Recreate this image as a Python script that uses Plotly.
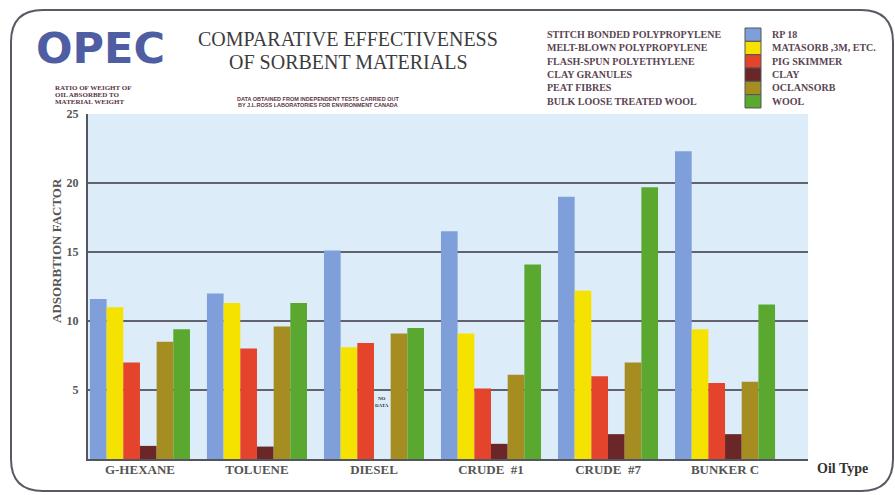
import plotly.graph_objects as go

# ---------------- data ----------------
oil_types = ["G-HEXANE", "TOLUENE", "DIESEL", "CRUDE  #1", "CRUDE  #7", "BUNKER C"]
series_names = ["RP 18", "MATASORB ,3M, ETC.", "PIG SKIMMER", "CLAY", "OCLANSORB", "WOOL"]
material_names = ["STITCH BONDED POLYPROPYLENE", "MELT-BLOWN POLYPROPYLENE",
                  "FLASH-SPUN POLYETHYLENE", "CLAY GRANULES", "PEAT FIBRES",
                  "BULK LOOSE TREATED WOOL"]
rp18 = [11.6, 12.0, 15.1, 16.5, 19.0, 22.3]
matasorb = [11.0, 11.3, 8.1, 9.1, 12.2, 9.4]
pig_skimmer = [7.0, 8.0, 8.4, 5.1, 6.0, 5.5]
clay = [0.95, 0.9, None, 1.1, 1.8, 1.8]
oclansorb = [8.5, 9.6, 9.1, 6.1, 7.0, 5.6]
wool = [9.4, 11.3, 9.5, 14.1, 19.7, 11.2]
y_ticks = [5, 10, 15, 20, 25]

series_values = [rp18, matasorb, pig_skimmer, clay, oclansorb, wool]
colors = ["#7f9fdb", "#f6e200", "#e4432c", "#6b2727", "#a68d22", "#5aa830"]

# ---------------- geometry helpers (pixel -> paper) ----------------
W, H = 895, 495
L, R, T, B = 88, 87, 114, 36
PW, PH = W - L - R, H - T - B


def px(xp):
    return (xp - L) / PW


def py(yp):
    return (H - B - yp) / PH


serif = "Liberation Serif"
x_idx = list(range(len(oil_types)))

fig = go.Figure()
for name, vals, col in zip(series_names, series_values, colors):
    fig.add_trace(go.Bar(x=x_idx, y=vals, name=name, marker_color=col,
                         marker_line_width=0, showlegend=False))

fig.update_layout(
    width=W, height=H,
    margin=dict(l=L, r=R, t=T, b=B),
    paper_bgcolor="#ffffff",
    plot_bgcolor="#dcedf9",
    barmode="group", bargap=0.145, bargroupgap=0,
    xaxis=dict(range=[-0.444, 5.709], tickvals=x_idx, ticktext=oil_types,
               showgrid=False, zeroline=False, showline=True, linecolor="#55555f",
               linewidth=2, ticks="", ticklabelstandoff=-3,
               tickfont=dict(family=serif, size=13, color="#555", weight="bold")),
    yaxis=dict(range=[0, 25], tickvals=y_ticks, showgrid=True, gridcolor="#62626e",
               gridwidth=1.5, zeroline=False, showline=True, linecolor="#55555f",
               linewidth=2, ticks="", ticklabelstandoff=5,
               tickfont=dict(family=serif, size=12, color="#555", weight="bold")),
)

ann = []
# title
ann.append(dict(text="COMPARATIVE EFFECTIVENESS", x=px(348), y=py(39), xref="paper", yref="paper",
                showarrow=False, xanchor="center", yanchor="middle",
                font=dict(family=serif, size=20, color="#3c3c3c")))
ann.append(dict(text="OF SORBENT MATERIALS", x=px(348), y=py(62), xref="paper", yref="paper",
                showarrow=False, xanchor="center", yanchor="middle",
                font=dict(family=serif, size=20, color="#3c3c3c")))
# OPEC logo text
ann.append(dict(text="OPEC", x=px(100), y=py(48), xref="paper", yref="paper",
                showarrow=False, xanchor="center", yanchor="middle",
                font=dict(family="DejaVu Sans", size=43, color="#4f5da3", weight="bold")))
# small notes
for i, line in enumerate(["RATIO OF WEIGHT OF", "OIL ABSORBED TO", "MATERIAL WEIGHT"]):
    ann.append(dict(text=line, x=px(53), y=py(88 + 7 * i), xref="paper", yref="paper",
                    showarrow=False, xanchor="left", yanchor="middle",
                    font=dict(family=serif, size=7, color="#5a3444", weight="bold")))
for i, line in enumerate(["DATA OBTAINED FROM INDEPENDENT TESTS CARRIED OUT",
                          "BY J.L.ROSS LABORATORIES FOR ENVIRONMENT CANADA"]):
    ann.append(dict(text=line, x=px(318), y=py(99 + 5.5 * i), xref="paper", yref="paper",
                    showarrow=False, xanchor="center", yanchor="middle",
                    font=dict(family="Liberation Sans", size=5.5, color="#5a3444", weight="bold")))
# y title
ann.append(dict(text="ADSORBTION FACTOR", x=px(56), y=py(251), xref="paper", yref="paper",
                showarrow=False, xanchor="center", yanchor="middle", textangle=-90,
                font=dict(family=serif, size=13, color="#555", weight="bold")))
# x axis label
ann.append(dict(text="Oil Type", x=px(842), y=py(468), xref="paper", yref="paper",
                showarrow=False, xanchor="center", yanchor="middle",
                font=dict(family=serif, size=14, color="#333", weight="bold")))
# NO DATA marker (diesel / clay)
ann.append(dict(text="NO<br>DATA", x=2 + 0.5 * 0.855 / 6, y=4.1, xref="x", yref="y",
                showarrow=False, xanchor="center", yanchor="middle",
                font=dict(family=serif, size=5, color="#333", weight="bold")))

# legend (custom)
shapes = []
row_top, row_h = 28, 13.33
for i, (mat, name, col) in enumerate(zip(material_names, series_names, colors)):
    yc = row_top + row_h * (i + 0.5)
    ann.append(dict(text=mat, x=px(545), y=py(yc), xref="paper", yref="paper",
                    showarrow=False, xanchor="left", yanchor="middle",
                    font=dict(family=serif, size=10, color="#5a4452", weight="bold")))
    ann.append(dict(text=name, x=px(770), y=py(yc), xref="paper", yref="paper",
                    showarrow=False, xanchor="left", yanchor="middle",
                    font=dict(family=serif, size=10, color="#5a4452", weight="bold")))
    shapes.append(dict(type="rect", xref="paper", yref="paper",
                       x0=px(745), x1=px(761), y0=py(row_top + row_h * i),
                       y1=py(row_top + row_h * (i + 1)),
                       fillcolor=col, line=dict(color="#555", width=1)))

# rounded border
x0, x1, yt, yb = px(11), px(893), py(10), py(491)
rx, ry = 32 / PW, 32 / PH
path = (f"M {x0+rx},{yt} L {x1-rx},{yt} Q {x1},{yt} {x1},{yt-ry} "
        f"L {x1},{yb+ry} Q {x1},{yb} {x1-rx},{yb} L {x0+rx},{yb} "
        f"Q {x0},{yb} {x0},{yb+ry} L {x0},{yt-ry} Q {x0},{yt} {x0+rx},{yt} Z")
shapes.insert(0, dict(type="path", path=path, xref="paper", yref="paper",
                      line=dict(color="#5a5a66", width=2), fillcolor="rgba(0,0,0,0)",
                      layer="below"))

fig.update_layout(annotations=ann, shapes=shapes)
fig.write_html("out.html")
